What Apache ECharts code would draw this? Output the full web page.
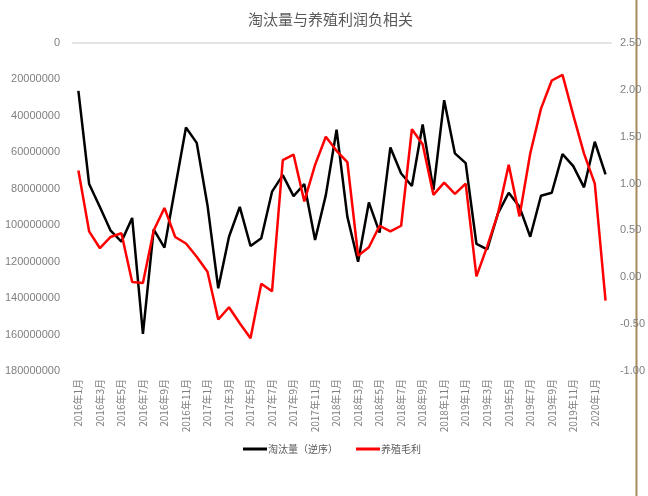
<!DOCTYPE html>
<html>
<head>
<meta charset="utf-8">
<script src="https://cdn.jsdelivr.net/npm/echarts@6/dist/echarts.min.js"></script>
<style>
  html, body { margin: 0; padding: 0; background: #fff; }
  #chart { width: 648px; height: 496px; }
</style>
</head>
<body>
<div id="chart"></div>
<script>
// 月份
const months = [
  '2016年1月', '2016年2月', '2016年3月', '2016年4月', '2016年5月', '2016年6月',
  '2016年7月', '2016年8月', '2016年9月', '2016年10月', '2016年11月', '2016年12月',
  '2017年1月', '2017年2月', '2017年3月', '2017年4月', '2017年5月', '2017年6月',
  '2017年7月', '2017年8月', '2017年9月', '2017年10月', '2017年11月', '2017年12月',
  '2018年1月', '2018年2月', '2018年3月', '2018年4月', '2018年5月', '2018年6月',
  '2018年7月', '2018年8月', '2018年9月', '2018年10月', '2018年11月', '2018年12月',
  '2019年1月', '2019年2月', '2019年3月', '2019年4月', '2019年5月', '2019年6月',
  '2019年7月', '2019年8月', '2019年9月', '2019年10月', '2019年11月', '2019年12月',
  '2020年1月', '2020年2月'
]

// 淘汰量（逆序），左轴
const culled = [
  26300000, 77400000, 90000000, 103000000, 109000000, 96000000,
  159600000, 102300000, 112300000, 79300000, 46400000, 54800000,
  89000000, 134600000, 106300000, 89900000, 111400000, 107200000,
  81600000, 72500000, 84000000, 77400000, 108100000, 83500000,
  47600000, 95300000, 120000000, 87500000, 104100000, 57300000,
  71600000, 78500000, 44700000, 80700000, 31400000, 60600000,
  65900000, 110300000, 113200000, 93500000, 82200000, 89900000,
  106300000, 83800000, 82200000, 61000000, 67600000, 79200000,
  54200000, 72100000
]

// 养殖毛利，右轴
const margin = [
  1.14, 0.49, 0.31, 0.43, 0.47, -0.05,
  -0.06, 0.50, 0.74, 0.43, 0.36, 0.22,
  0.06, -0.45, -0.32, -0.49, -0.65, -0.07,
  -0.15, 1.25, 1.31, 0.81, 1.20, 1.50,
  1.35, 1.23, 0.23, 0.32, 0.55, 0.49,
  0.55, 1.58, 1.42, 0.88, 1.01, 0.89,
  1.00, 0.01, 0.33, 0.68, 1.20, 0.65,
  1.32, 1.80, 2.10, 2.16, 1.73, 1.32,
  1.00, -0.25
]

const labelColor = '#7f7f7f'

const option = {
  animation: false,
  title: {
    text: '淘汰量与养殖利润负相关',
    left: 243,
    top: 7,
    textStyle: {
      fontFamily: 'Noto Sans CJK SC',
      fontSize: 15,
      fontWeight: 'normal',
      color: '#595959'
    }
  },
  legend: {
    left: 238,
    top: 439,
    itemWidth: 24,
    itemHeight: 3,
    itemGap: 18,
    icon: 'rect',
    textStyle: {
      fontFamily: 'Noto Sans CJK SC',
      fontSize: 10,
      color: '#595959',
      padding: [0, 0, 0, -4]
    },
    data: ['淘汰量（逆序）', '养殖毛利']
  },
  grid: {
    left: 73,
    right: 34,
    top: 43,
    bottom: 125
  },
  xAxis: [
    {
      type: 'category',
      data: months,
      boundaryGap: true,
      axisLine: { show: false },
      axisTick: { show: false },
      axisLabel: {
        interval: 1,
        rotate: 90,
        fontSize: 10,
        color: labelColor,
        margin: 8,
        fontFamily: 'Noto Sans CJK SC'
      }
    },
    {
      // 顶部的横线（0 处）
      type: 'category',
      data: months,
      position: 'top',
      axisLine: { show: true, onZero: false, lineStyle: { color: '#e3e3e3', width: 2 } },
      axisTick: { show: false },
      axisLabel: { show: false }
    }
  ],
  yAxis: [
    {
      type: 'value',
      inverse: true,
      min: 0,
      max: 180000000,
      interval: 20000000,
      axisLine: { show: false },
      axisTick: { show: false },
      splitLine: { show: false },
      axisLabel: {
        fontSize: 11,
        color: labelColor,
        margin: 13,
        fontFamily: 'Liberation Sans Narrow, Liberation Sans',
        formatter: function (v) {
          return String(v)
        }
      }
    },
    {
      type: 'value',
      min: -1,
      max: 2.5,
      interval: 0.5,
      axisLine: { show: false },
      axisTick: { show: false },
      splitLine: { show: false },
      axisLabel: {
        fontSize: 11,
        color: labelColor,
        margin: 9,
        formatter: function (v) {
          return v.toFixed(2)
        }
      }
    }
  ],
  series: [
    {
      name: '淘汰量（逆序）',
      type: 'line',
      xAxisIndex: 0,
      yAxisIndex: 0,
      data: culled,
      color: '#000000',
      showSymbol: false,
      symbol: 'none',
      lineStyle: { width: 2.5, color: '#000000' }
    },
    {
      name: '养殖毛利',
      type: 'line',
      xAxisIndex: 0,
      yAxisIndex: 1,
      data: margin,
      color: '#ff0000',
      showSymbol: false,
      symbol: 'none',
      lineStyle: { width: 2.5, color: '#ff0000' }
    }
  ],
  graphic: [
    {
      type: 'line',
      shape: { x1: 636.5, y1: 0, x2: 636.5, y2: 496 },
      style: { stroke: '#a8895a', lineWidth: 2 }
    }
  ]
}

const myChart = echarts.init(document.getElementById('chart'))
myChart.setOption(option)
</script>
</body>
</html>
